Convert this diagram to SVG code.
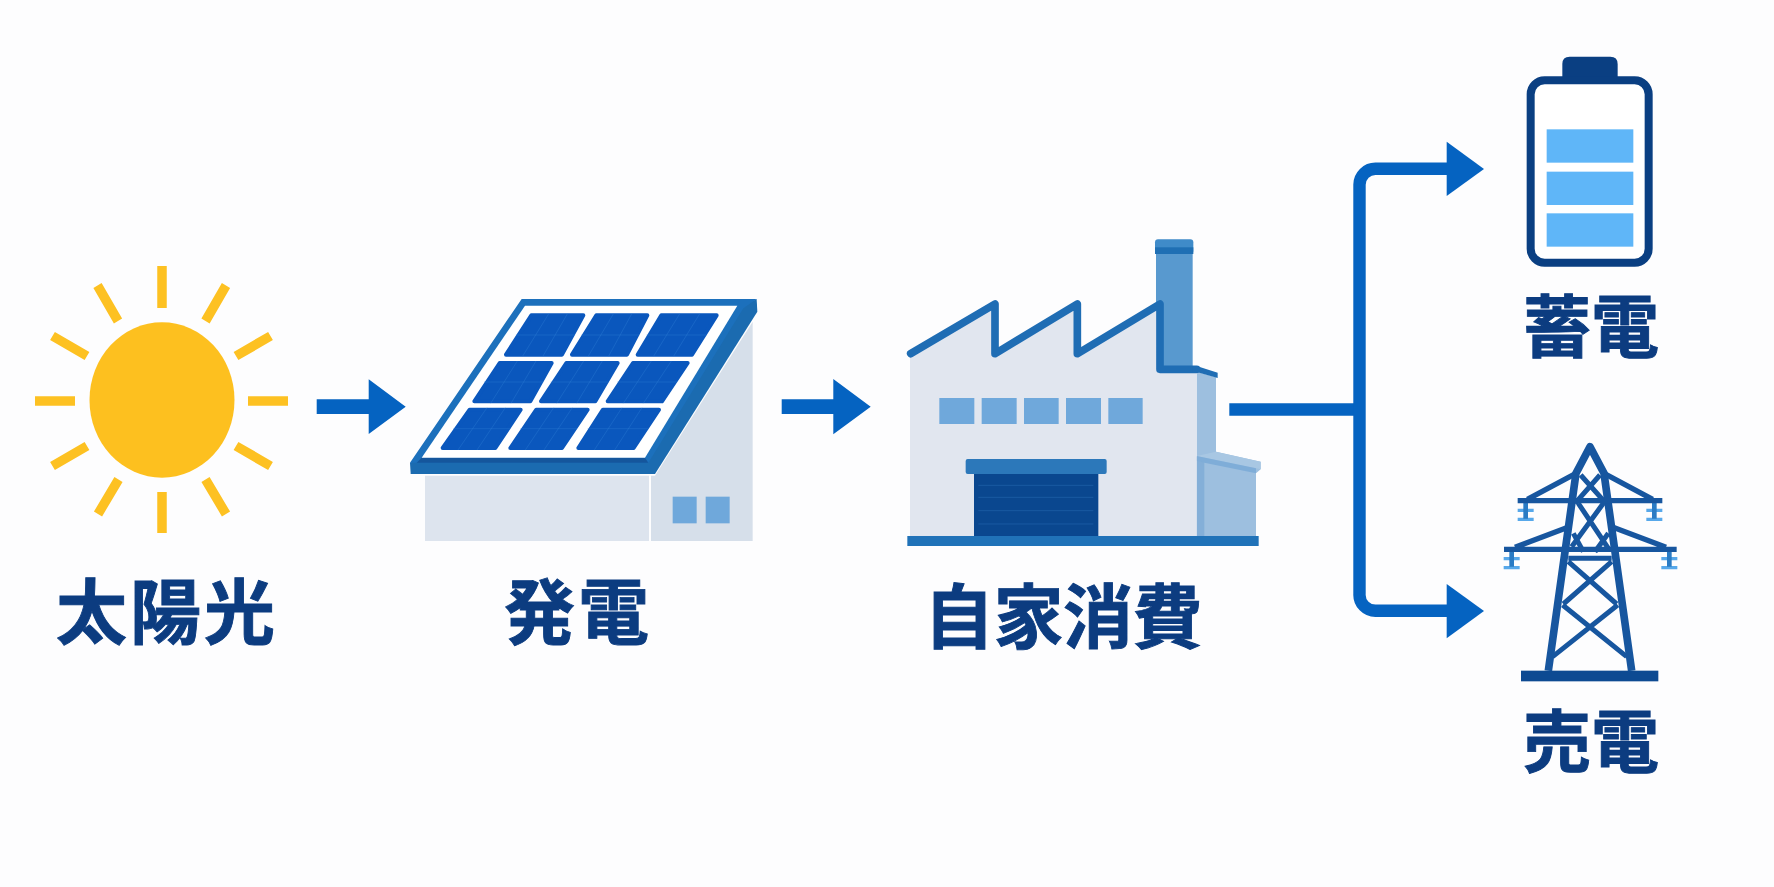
<svg xmlns="http://www.w3.org/2000/svg" width="1774" height="887" viewBox="0 0 1774 887">
<style>
.label{font-family:"Noto Sans CJK JP","Noto Sans CJK SC",sans-serif;font-weight:700;fill:#0c3c80;stroke:#0c3c80;stroke-width:.9}
.flow{fill:#0563c1}
.ray{stroke:#fdc122;stroke-width:9.500;fill:none}
.cell{fill:#0a57bd;stroke:#0a57bd;stroke-width:12;stroke-linejoin:round}
.grid{fill:none;stroke:#2f7fd6;stroke-width:2;opacity:.55}
.pane{fill:#6fa8db}
.leg{fill:none;stroke:#17569f;stroke-width:23;stroke-linejoin:round}
.arm{fill:none;stroke:#17569f;stroke-width:16}
.brace{fill:none;stroke:#17569f;stroke-width:15}
.ins{fill:#57a8ea}
</style>
<rect width="1774" height="887" fill="#fdfdfe"/>

<g id="sun">
<ellipse cx="162" cy="400" rx="72.500" ry="77.700" fill="#fdc01f"/>
<path class="ray" d="M162 266V308M162 492V533M35 401H75M248 401H288M97.500 285.500L118 321M226 285.500L205.500 321M52.500 336L87 356M270.500 336L236 356M52.500 466L87 446M270.500 466L236 446M98 514L118.500 479.500M226 514L205.500 479.500"/>
<text class="label" x="56" y="638" font-size="71" letter-spacing="3">太陽光</text>
</g>

<g id="solar">
<g transform="translate(400 280) scale(.33333)">
<path fill="#dde4ee" d="M75 587H747V783H75Z"/>
<path fill="#d6dfea" d="M753 587H765L1058 125V783H753Z"/>
<rect class="pane" x="818" y="650" width="72" height="80"/>
<rect class="pane" x="917" y="650" width="72" height="80"/>
<path fill="#1b6bb0" d="M1070 57L1072 95L765 582H32L30 548Z"/>
<path fill="#1c70bc" d="M365 57H1070L1030 85L745 548H30Z"/>
<path fill="#15569c" d="M65 533H735L745 548H50Z"/>
<path fill="#fff" d="M375 77H1012L735 533H65Z"/>
<polygon class="cell" points="394,106 550,106 486,224 318,224"/>
<polygon class="cell" points="589,106 742,106 681,224 516,224"/>
<polygon class="cell" points="784,106 950,106 876,224 713,224"/>
<polygon class="cell" points="299,249 455,249 391,364 223,364"/>
<polygon class="cell" points="499,249 653,249 586,364 423,364"/>
<polygon class="cell" points="699,249 863,249 786,364 623,364"/>
<polygon class="cell" points="209,389 362,389 286,504 128,504"/>
<polygon class="cell" points="409,389 563,389 486,504 331,504"/>
<polygon class="cell" points="609,389 777,389 701,504 535,504"/>
<path class="grid" d="M348 165H525M447 100L367 230M503 100L428 230"/>
<path class="grid" d="M544 165H718M641 100L564 230M696 100L625 230"/>
<path class="grid" d="M740 165H920M840 100L760 230M900 100L820 230"/>
<path class="grid" d="M252 306H430M352 243L272 370M408 243L333 370"/>
<path class="grid" d="M452 306H626M551 243L470 370M607 243L530 370"/>
<path class="grid" d="M652 306H831M754 243L670 370M814 243L730 370"/>
<path class="grid" d="M160 446H331M261 383L174 510M316 383L231 510"/>
<path class="grid" d="M361 446H531M461 383L376 510M517 383L432 510"/>
<path class="grid" d="M563 446H746M666 383L583 510M726 383L644 510"/>
</g>
<text class="label" x="504" y="638" font-size="71" letter-spacing="3">発電</text>
</g>

<g id="factory">
<g transform="translate(890 220) scale(.33333)">
<rect x="798" y="95" width="110" height="350" fill="#5899cf"/>
<rect x="795" y="58" width="115" height="44" rx="9" fill="#3f8bc9"/>
<rect x="795" y="82" width="115" height="20" fill="#1f6fb4"/>
<path fill="#9dbfdf" d="M920 455L978 472V695L1112 725V748L1098 760V948H920Z"/>
<path fill="#84afd8" d="M920 710L943 716V948H920Z"/>
<path fill="#a8c7e3" d="M920 708L978 695L1112 725V748L1098 745Z"/>
<path fill="#7fadd8" d="M920 708L1098 745V760L943 728L920 722Z"/>
<path fill="#e1e6ef" d="M60 405L312 258V405L560 258V405L808 258V448H920V948H60Z"/>
<path fill="none" stroke="#1f6db4" stroke-width="23" stroke-linejoin="round" stroke-linecap="round" d="M62 401L315 252V401L562 252V401L810 252V448H920"/>
<path fill="#1f6db4" d="M908 438H920L983 458V474L920 456H908Z"/>
<rect class="pane" x="148" y="534" width="105" height="78"/>
<rect class="pane" x="275" y="534" width="105" height="78"/>
<rect class="pane" x="402" y="534" width="104" height="78"/>
<rect class="pane" x="528" y="534" width="105" height="78"/>
<rect class="pane" x="655" y="534" width="103" height="78"/>
<rect x="252" y="760" width="373" height="190" fill="#0a478f"/>
<path fill="none" stroke="#1a5aa2" stroke-width="3" d="M265 796H610M265 832H610M265 872H610M265 912H610"/>
<rect x="227" y="717" width="423" height="45" rx="6" fill="#2c78ba"/>
<rect x="52" y="948" width="1054" height="30" fill="#2072b8"/>
</g>
<text class="label" x="924" y="643" font-size="70" letter-spacing="-.5">自家消費</text>
</g>

<g id="battery">
<g transform="translate(1340 40) scale(.33333)">
<path fill="#0a3f82" d="M667 115V72Q667 50 689 50H811Q833 50 833 72V115Z"/>
<rect x="572" y="121" width="354" height="547" rx="42" fill="#fff" stroke="#0a3f82" stroke-width="24"/>
<rect x="620" y="268" width="260" height="100" fill="#5fb6f8"/>
<rect x="620" y="395" width="260" height="100" fill="#5fb6f8"/>
<rect x="620" y="520" width="260" height="100" fill="#5fb6f8"/>
</g>
<text class="label" x="1523" y="352" font-size="68">蓄電</text>
</g>

<g id="pylon">
<g transform="translate(1480 430) scale(.33333)">
<path class="ins" d="M113 236H161V246H113ZM113 263H161V273H113ZM499 236H547V246H499ZM499 263H547V273H499ZM71 381H119V391H71ZM71 408H119V418H71ZM544 381H592V391H544ZM544 408H592V418H544Z"/>
<path fill="none" stroke="#2a7bc4" stroke-width="14" d="M137 215V266M523 215V266M95 360V410M568 360V410"/>
<path class="leg" d="M205 722L288 130L330 50L372 130L455 722"/>
<path class="arm" d="M113 212H547M72 358H590M142 208L288 130M518 208L372 130M105 352L268 290M558 352L395 290"/>
<path class="brace" d="M302 135L378 220M360 135L285 220M295 220L385 355M370 220L275 350M280 310L310 365M385 310L345 365M265 385H395M265 395L410 522M395 395L250 522M248 525L440 680M413 525L218 680"/>
<rect x="123" y="722" width="412" height="32" fill="#0d4a92"/>
</g>
<text class="label" x="1523" y="767" font-size="68">売電</text>
</g>

<g id="connectors">
<path class="flow" d="M316.700 399.300H368.700V379.300L405.700 406.700L368.700 434V414H316.700Z"/>
<path class="flow" d="M781.700 399.300H833.300V379L870.700 406.700L833.300 434.300V414H781.700Z"/>
<path class="flow" d="M1229.300 403.300H1359.500V415.700H1229.300Z"/>
<path fill="none" stroke="#0563c1" stroke-width="12.400" d="M1359.500 400V185A16 16 0 0 1 1376 168.700H1450M1359.500 400V594A16 16 0 0 0 1376 610.800H1450"/>
<path class="flow" d="M1446.700 141.700L1484 169L1446.700 196Z"/>
<path class="flow" d="M1446.700 584L1484 611L1446.700 638.300Z"/>
</g>
</svg>
